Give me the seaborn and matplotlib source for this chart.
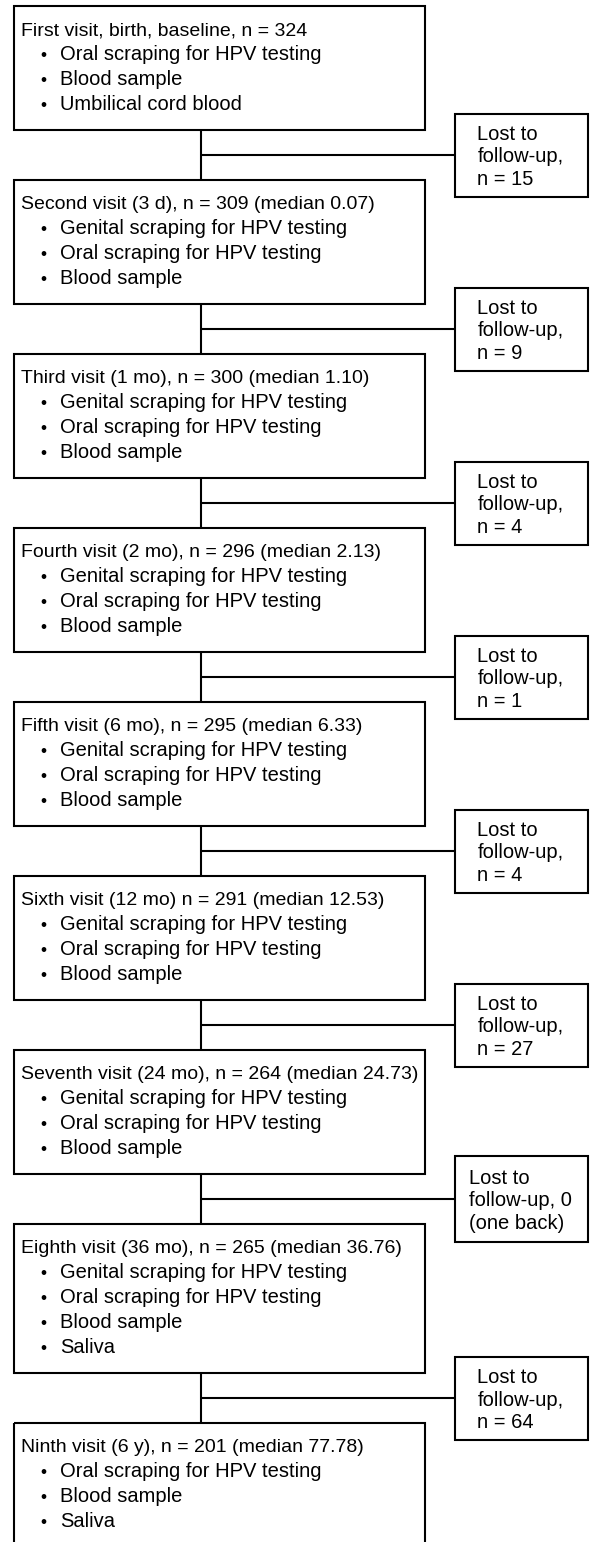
import matplotlib
matplotlib.use("Agg")
import matplotlib.pyplot as plt
import seaborn as sns
from matplotlib.patches import Rectangle

# Flowchart content
visit_titles = [
    "First visit, birth, baseline, n = 324",
    "Second visit (3 d), n = 309 (median 0.07)",
    "Third visit (1 mo), n = 300 (median 1.10)",
    "Fourth visit (2 mo), n = 296 (median 2.13)",
    "Fifth visit (6 mo), n = 295 (median 6.33)",
    "Sixth visit (12 mo) n = 291 (median 12.53)",
    "Seventh visit (24 mo), n = 264 (median 24.73)",
    "Eighth visit (36 mo), n = 265 (median 36.76)",
    "Ninth visit (6 y), n = 201 (median 77.78)",
]
std_items = ["Genital scraping for HPV testing", "Oral scraping for HPV testing", "Blood sample"]
visit_items = [
    ["Oral scraping for HPV testing", "Blood sample", "Umbilical cord blood"],
    std_items, std_items, std_items, std_items, std_items, std_items,
    std_items + ["Saliva"],
    ["Oral scraping for HPV testing", "Blood sample", "Saliva"],
]
lost_labels = [
    "Lost to\nfollow-up,\nn = 15",
    "Lost to\nfollow-up,\nn = 9",
    "Lost to\nfollow-up,\nn = 4",
    "Lost to\nfollow-up,\nn = 1",
    "Lost to\nfollow-up,\nn = 4",
    "Lost to\nfollow-up,\nn = 27",
    "Lost to\nfollow-up, 0\n(one back)",
    "Lost to\nfollow-up,\nn = 64",
]

sns.set_theme(style="white")
plt.rcParams["font.family"] = ["Liberation Sans", "DejaVu Sans"]
plt.rcParams["text.color"] = "black"

W, H = 590, 1542
fig = plt.figure(figsize=(W / 100, H / 100), dpi=100)
ax = fig.add_axes([0, 0, 1, 1])
ax.set_xlim(0, W)
ax.set_ylim(H, 0)
ax.axis("off")

FS_TITLE = 14
FS = 14.5
LW = 1.5
box_l, box_r = 14, 425
side_l, side_r = 455, 588
stem_x = 201
line_h = 25
gap = 50
side_h = 83

top = 6
for i, (title, items) in enumerate(zip(visit_titles, visit_items)):
    height = 29 + line_h * len(items) + 20
    ax.add_patch(Rectangle((box_l, top), box_r - box_l, height, fill=False,
                           edgecolor="black", linewidth=LW))
    ax.text(box_l + 7, top + 29, title, fontsize=FS_TITLE, va="baseline", ha="left",
            color="black")
    for k, item in enumerate(items):
        yb = top + 29 + line_h * (k + 1)
        ax.text(43, yb, "\u2022", fontsize=FS - 2, va="baseline", ha="center",
                color="black")
        ax.text(60, yb, item, fontsize=FS, va="baseline", ha="left", color="black")
    bottom = top + height
    if i < len(lost_labels):
        nxt = bottom + gap
        ax.plot([stem_x, stem_x], [bottom, nxt], color="black", lw=LW,
                solid_capstyle="butt")
        yl = bottom + gap / 2
        ax.plot([stem_x, side_l], [yl, yl], color="black", lw=LW,
                solid_capstyle="butt")
        sh = side_h + (3 if "one back" in lost_labels[i] else 0)
        ax.add_patch(Rectangle((side_l, yl - sh / 2), side_r - side_l, sh,
                               fill=False, edgecolor="black", linewidth=LW))
        ax.text((side_l + side_r) / 2 - 1, yl + 2, lost_labels[i], fontsize=FS,
                ha="center", va="center", multialignment="left", linespacing=1.22,
                color="black")
        top = nxt

plt.savefig("out.png", dpi=100, facecolor="white")
plt.close()
